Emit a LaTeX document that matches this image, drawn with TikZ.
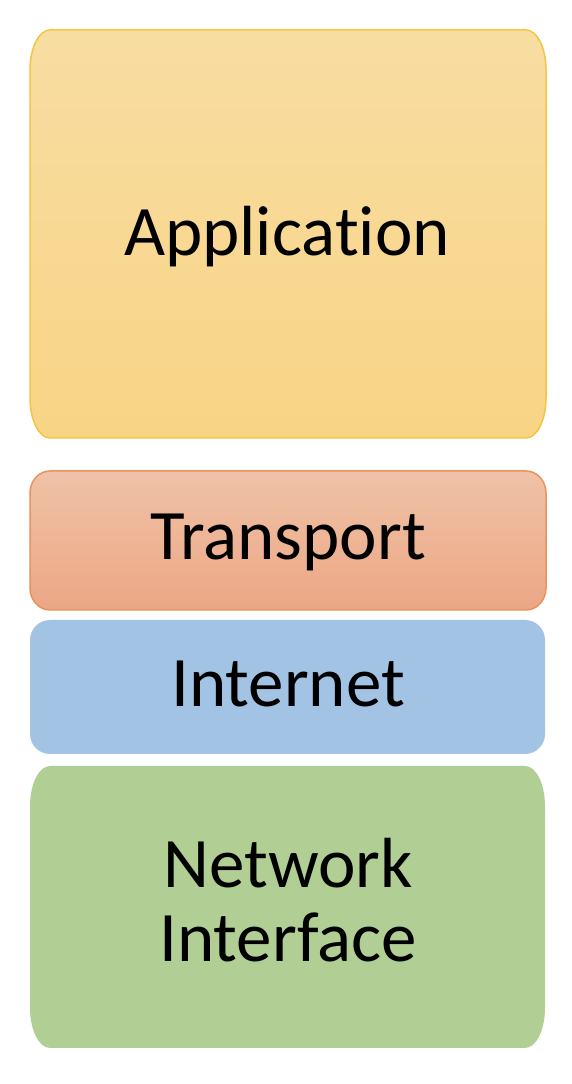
\documentclass[tikz,border=0pt]{standalone}
\usepackage{fontspec}
\setmainfont{Carlito}[Ligatures=NoCommon]

% rounded box with elliptic corners: #1,#2 lower-left; #3,#4 upper-right; #5,#6 corner radii
\newcommand{\layerpath}[6]{%
  (#1+#5,#2) -- (#3-#5,#2)
  arc[start angle=-90,end angle=0,x radius=#5pt,y radius=#6pt]
  -- (#3,#4-#6)
  arc[start angle=0,end angle=90,x radius=#5pt,y radius=#6pt]
  -- (#1+#5,#4)
  arc[start angle=90,end angle=180,x radius=#5pt,y radius=#6pt]
  -- (#1,#2+#6)
  arc[start angle=180,end angle=270,x radius=#5pt,y radius=#6pt]
  -- cycle}

\definecolor{appTop}{HTML}{F8DDA2}
\definecolor{appBot}{HTML}{F8D485}
\definecolor{appLine}{HTML}{F5C444}
\definecolor{trTop}{HTML}{EFC2A7}
\definecolor{trBot}{HTML}{ECA784}
\definecolor{trLine}{HTML}{E8935C}
\definecolor{netFill}{HTML}{A3C3E4}
\definecolor{nifFill}{HTML}{B1CE94}

\tikzset{
  layertext/.style={font=\fontsize{71}{74}\selectfont, text=black, inner sep=0pt, anchor=base, align=center},
}

\begin{document}
\begin{tikzpicture}[x=1pt,y=1pt]
  \fill[white] (0,0) rectangle (572,1084);
  \useasboundingbox (0,0) rectangle (572,1084);

  % layer boxes
  \path[top color=appTop, bottom color=appBot, draw=appLine, line width=1.5pt]
    \layerpath{30}{646}{546}{1054}{20}{40};
  \path[top color=trTop, bottom color=trBot, draw=trLine, line width=1.5pt]
    \layerpath{30}{474}{546}{613}{20}{22};
  \path[fill=netFill]
    \layerpath{30}{330}{545}{464}{20}{20};
  \path[fill=nifFill]
    \layerpath{30}{36}{545}{318}{20}{40};

  % labels
  \node[layertext] (app) at (287,828) {Application};
  \node[layertext] (tr) at (288,524) {Transport};
  \node[layertext] (inet) at (288,377) {Internet};
  \node[layertext] (nw) at (288,196) {Network};
  \node[layertext] (nif) at (288,122) {Interface};
\end{tikzpicture}
\end{document}
